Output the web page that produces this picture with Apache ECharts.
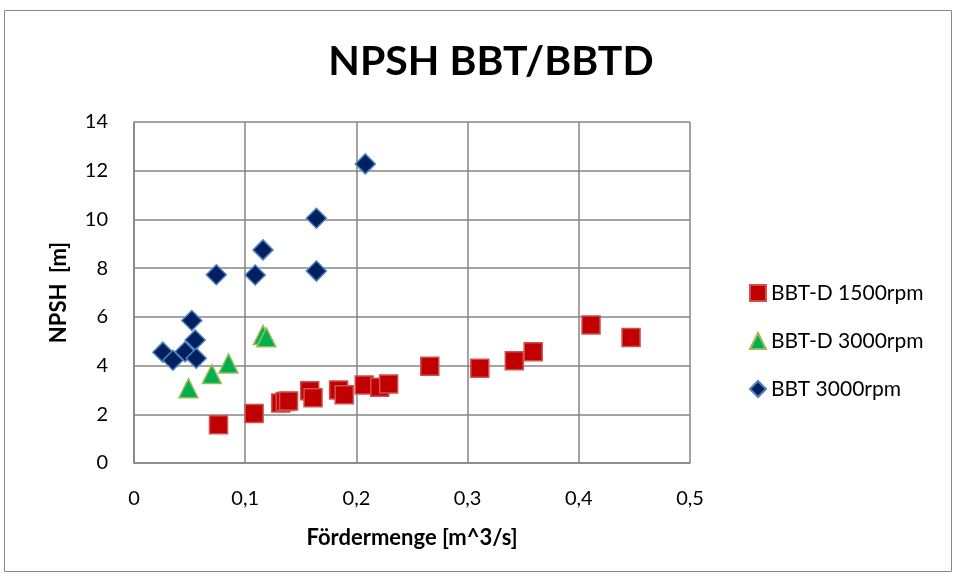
<!DOCTYPE html>
<html><head><meta charset="utf-8">
<script src="https://cdn.jsdelivr.net/npm/echarts@6/dist/echarts.min.js"></script>
<style>html,body{margin:0;padding:0;background:#fff}#c{width:956px;height:576px}</style>
</head><body><div id="c"></div>
<script>
const titleText = 'NPSH BBT/BBTD';
const xName = 'Fördermenge [m^3/s]';
const yName = 'NPSH  [m]';
const seriesNames = ['BBT-D 1500rpm', 'BBT-D 3000rpm', 'BBT 3000rpm'];
const bbtd1500 = [
  [0.076, 1.57], [0.108, 2.03], [0.132, 2.46], [0.136, 2.53], [0.139, 2.55],
  [0.158, 2.97], [0.161, 2.68], [0.184, 3.0], [0.189, 2.8], [0.207, 3.2],
  [0.221, 3.11], [0.229, 3.24], [0.266, 3.97], [0.311, 3.89], [0.342, 4.2],
  [0.359, 4.57], [0.411, 5.67], [0.447, 5.15]
];
const bbtd3000 = [
  [0.049, 3.07], [0.070, 3.65], [0.085, 4.09], [0.116, 5.26], [0.119, 5.16]
];
const bbt3000 = [
  [0.026, 4.55], [0.035, 4.22], [0.046, 4.57], [0.052, 5.85], [0.055, 5.05],
  [0.056, 4.3], [0.074, 7.73], [0.109, 7.72], [0.116, 8.75], [0.164, 10.05],
  [0.164, 7.88], [0.208, 12.28]
];
const chart = echarts.init(document.getElementById('c'));
const gridColor = '#868686';
const font = 'Lato, "Open Sans", sans-serif';
chart.setOption({
  animation: false,
  backgroundColor: '#fff',
  graphic: [{type: 'rect', shape: {x: 4.5, y: 10.5, width: 947, height: 561}, style: {fill: 'none', stroke: '#888', lineWidth: 1}, silent: true}],
  title: {text: titleText, left: 486, top: 36, textAlign: 'center',
    textStyle: {fontFamily: font, fontWeight: 'bold', fontSize: 41, color: '#000'}},
  grid: {left: 134, right: 266, top: 122, bottom: 113, containLabel: false},
  legend: {
    orient: 'vertical', left: 744, top: 276, itemGap: 24, itemWidth: 16, itemHeight: 16,
    textStyle: {fontFamily: font, fontSize: 21, lineHeight: 24, color: '#000'},
    data: seriesNames
  },
  xAxis: {
    type: 'value', min: 0, max: 0.5, interval: 0.1,
    name: xName, nameLocation: 'middle', nameGap: 64, nameMoveOverlap: false,
    nameTextStyle: {fontFamily: font, fontWeight: 'bold', fontSize: 22, color: '#000'},
    axisLine: {lineStyle: {color: gridColor, width: 1.5}},
    axisTick: {show: false},
    axisLabel: {fontFamily: font, fontSize: 20, color: '#000', margin: 26,
      formatter: v => String(v).replace('.', ',')},
    splitLine: {show: true, lineStyle: {color: gridColor, width: 1.5}}
  },
  yAxis: {
    type: 'value', min: 0, max: 14, interval: 2,
    name: yName, nameLocation: 'middle', nameGap: 64, nameMoveOverlap: false,
    nameTextStyle: {fontFamily: font, fontWeight: 'bold', fontSize: 22, color: '#000'},
    axisLine: {show: true, lineStyle: {color: gridColor, width: 1.5}},
    axisTick: {show: false},
    axisLabel: {fontFamily: font, fontSize: 20, color: '#000', margin: 26},
    splitLine: {show: true, lineStyle: {color: gridColor, width: 1.5}}
  },
  series: [
    {name: seriesNames[0], type: 'scatter', symbol: 'rect', symbolSize: 18, data: bbtd1500,
      itemStyle: {color: '#C00000', borderColor: '#D05050', borderWidth: 1.5, opacity: 1}},
    {name: seriesNames[1], type: 'scatter', symbol: 'triangle', symbolSize: 19, data: bbtd3000,
      itemStyle: {color: '#00B050', borderColor: '#9BBB59', borderWidth: 1.5, opacity: 1}},
    {name: seriesNames[2], type: 'scatter', symbol: 'diamond', symbolSize: [20, 20], data: bbt3000,
      itemStyle: {color: '#002060', borderColor: '#4F81BD', borderWidth: 1.5, opacity: 1}}
  ]
});
</script></body></html>
